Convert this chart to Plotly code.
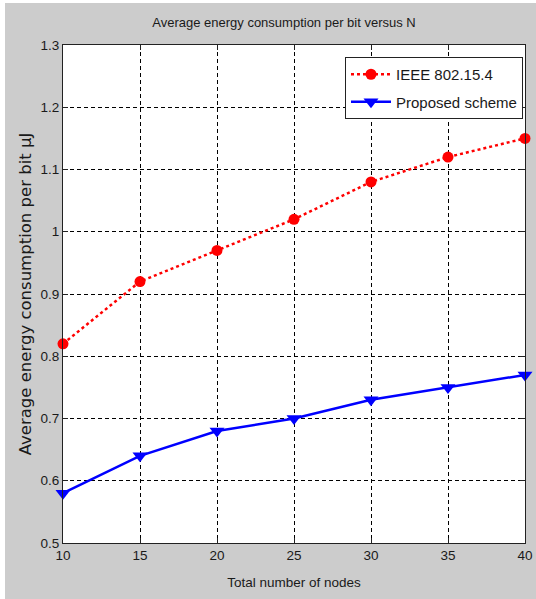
import plotly.graph_objects as go

nodes = [10, 15, 20, 25, 30, 35, 40]
ieee = [0.82, 0.92, 0.97, 1.02, 1.08, 1.12, 1.15]
proposed = [0.58, 0.64, 0.68, 0.70, 0.73, 0.75, 0.77]
x_ticks = [10, 15, 20, 25, 30, 35, 40]
y_ticks = [0.5, 0.6, 0.7, 0.8, 0.9, 1.0, 1.1, 1.2, 1.3]
y_tick_text = ["0.5", "0.6", "0.7", "0.8", "0.9", "1", "1.1", "1.2", "1.3"]

W, H = 536, 599
L, R, T, B = 63, 525, 45, 543
pw, ph = R - L, B - T

def px(x):
    return (x - L) / pw

def py(y):
    return (B - y) / ph

font_n = "Liberation Sans, Arial"
txt = "#1a1a1a"

fig = go.Figure()
fig.add_trace(go.Scatter(
    x=nodes, y=ieee, name="IEEE 802.15.4", mode="lines+markers",
    legendgroup="a",
    line=dict(color="#ff0000", width=2.5, dash="dot"),
    marker=dict(symbol="circle", size=11, color="#ff0000"),
    cliponaxis=False,
))
fig.add_trace(go.Scatter(
    x=nodes, y=proposed, name="Proposed scheme", mode="lines+markers",
    legendgroup="b",
    line=dict(color="#0000ff", width=2.5),
    marker=dict(symbol="triangle-down", size=13, color="#0000ff"),
    cliponaxis=False,
))

axis_common = dict(
    showline=True, linecolor="#222222", linewidth=1.2, mirror="allticks",
    ticks="inside", ticklen=5, tickcolor="#222222",
    showgrid=True, gridcolor="#000000", gridwidth=1, griddash="4px,3px",
    zeroline=False, automargin=False,
    tickfont=dict(family=font_n, size=13.5, color=txt),
)

fig.update_xaxes(
    range=[10, 40], tickvals=x_ticks,
    title=dict(text="Total number of nodes", font=dict(family=font_n, size=13.5, color=txt), standoff=15),
    **axis_common,
)
fig.update_yaxes(
    range=[0.5, 1.3], tickvals=y_ticks, ticktext=y_tick_text,
    title=dict(text="Average energy consumption per bit μJ",
               font=dict(family="DejaVu Sans", size=16.5, color=txt), standoff=4),
    **axis_common,
)

fig.update_layout(
    width=W, height=H, autosize=False,
    margin=dict(l=L, r=W - R, t=T, b=H - B, autoexpand=False),
    paper_bgcolor="#cccccc", plot_bgcolor="white",
    title=dict(text="Average energy consumption per bit versus N",
               font=dict(family=font_n, size=13, color=txt),
               xref="container", x=284 / W, xanchor="center",
               y=1 - 22 / H, yanchor="middle"),
    legend=dict(x=px(345), y=py(57), xanchor="left", yanchor="top",
                bgcolor="white", bordercolor="#222222", borderwidth=1,
                font=dict(family=font_n, size=15, color=txt),
                tracegroupgap=5, itemwidth=40),
    showlegend=True,
    shapes=[
        dict(type="rect", xref="paper", yref="paper", layer="below",
             x0=px(-5), x1=px(5), y0=py(H + 5), y1=py(-5),
             fillcolor="white", line=dict(width=0)),
        dict(type="rect", xref="paper", yref="paper", layer="below",
             x0=px(-5), x1=px(W + 5), y0=py(3), y1=py(-5),
             fillcolor="white", line=dict(width=0)),
    ],
)

fig.write_html(
    "out.html",
    config={"responsive": False, "displayModeBar": False},
    post_script="document.body.style.margin='0';document.body.style.overflow='hidden';",
)
